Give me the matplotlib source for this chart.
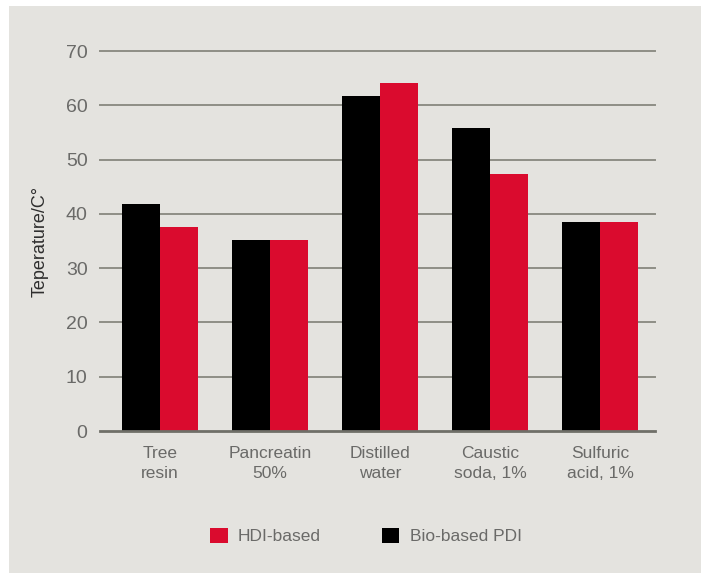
import matplotlib
matplotlib.use("Agg")
import matplotlib.pyplot as plt
from matplotlib.patches import Rectangle
import numpy as np

categories = ["Tree\nresin", "Pancreatin\n50%", "Distilled\nwater", "Caustic\nsoda, 1%", "Sulfuric\nacid, 1%"]
bio_pdi = [41.8, 35.2, 61.7, 55.8, 38.5]
hdi = [37.6, 35.2, 64.1, 47.3, 38.5]
yticks = [0, 10, 20, 30, 40, 50, 60, 70]

BG = "#e4e3df"
RED = "#da0b2e"
GRID = "#8e8e86"
TXT = "#6a6a68"

plt.rcParams["font.family"] = ["Liberation Sans", "DejaVu Sans"]

fig = plt.figure(figsize=(7.01, 5.73), dpi=100)
fig.patch.set_facecolor("white")
fig.patches.append(Rectangle((9 / 701, 0), 1 - 9 / 701, 1 - 6 / 573,
                             transform=fig.transFigure, facecolor=BG,
                             edgecolor="none", zorder=-10))

ax = fig.add_axes([100 / 701, (573 - 431) / 573, 555 / 701, (431 - 51) / 573])
ax.set_facecolor("none")
ax.set_zorder(1)

x = np.arange(len(categories))
w = 0.345
ax.bar(x - w / 2, bio_pdi, width=w, color="black", zorder=3, label="Bio-based PDI")
ax.bar(x + w / 2, hdi, width=w, color=RED, zorder=3, label="HDI-based")

ax.set_xlim(-0.545, 4.5)
ax.set_ylim(0, 70)
ax.set_yticks(yticks)
for t in yticks[1:]:
    ax.axhline(t, color=GRID, lw=1.4, zorder=1, clip_on=False)
ax.axhline(0, color="#6f6f68", lw=2.0, zorder=4, clip_on=False)

for s in ax.spines.values():
    s.set_visible(False)
ax.tick_params(axis="y", length=0, pad=9, labelsize=14, labelcolor=TXT)
ax.tick_params(axis="x", length=0, pad=11, labelsize=12.5, labelcolor=TXT)
ax.set_xticks(x)
ax.set_xticklabels(categories, linespacing=1.4)

ax.set_ylabel("Teperature/C°", fontsize=13, color="#2e2e2e", labelpad=12)

handles, labels = ax.get_legend_handles_labels()
leg = fig.legend(handles[::-1], labels[::-1], loc="center", bbox_to_anchor=(366 / 701, 1 - 536 / 573),
                 ncol=2, frameon=False, fontsize=12.5, handlelength=1.0, handleheight=1.0,
                 handletextpad=0.6, columnspacing=3.5)
for t in leg.get_texts():
    t.set_color(TXT)

fig.savefig("out.png", dpi=100, facecolor=fig.get_facecolor())
